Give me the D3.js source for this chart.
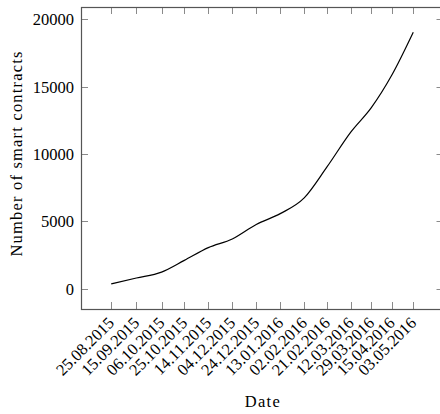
<!DOCTYPE html>
<html>
<head>
<meta charset="utf-8">
<script src="https://cdn.jsdelivr.net/npm/d3@7"></script>
<style>
  body { margin: 0; background: #fff; }
  text { font-family: "Liberation Serif", "DejaVu Serif", serif; fill: #000; }
</style>
</head>
<body>
<div id="chart"></div>
<script>
(function () {
  "use strict";

  /***** Données *****/
  var dates = ["25.08.2015", "15.09.2015", "06.10.2015", "25.10.2015", "14.11.2015",
               "04.12.2015", "24.12.2015", "13.01.2016", "02.02.2016", "21.02.2016",
               "12.03.2016", "29.03.2016", "15.04.2016", "03.05.2016"];
  var contracts = [370, 800, 1240, 2110, 3060, 3700, 4780, 5580, 6750, 9050,
                   11650, 13450, 15850, 19050];
  var yTicks = [0, 5000, 10000, 15000, 20000];

  /***** Configuration *****/
  var width = 440, height = 414;
  var margin = {top: 7, right: -3.5, bottom: 105, left: 81};
  var innerW = width - margin.left - margin.right,
      innerH = height - margin.top - margin.bottom;

  var parse = d3.timeParse("%d.%m.%Y");
  var data = dates.map(function (d, i) { return {date: parse(d), value: contracts[i]}; });

  // élargissement de 10 % comme pgfplots
  var xExt = d3.extent(data, function (d) { return d.date; });
  var xPad = (xExt[1] - xExt[0]) * 0.1;
  var yExt = d3.extent(contracts);
  var yPad = (yExt[1] - yExt[0]) * 0.1;

  var x = d3.scaleTime()
    .domain([new Date(+xExt[0] - xPad), new Date(+xExt[1] + xPad)])
    .range([0, innerW]);
  var y = d3.scaleLinear()
    .domain([yExt[0] - yPad, yExt[1] + yPad])
    .range([innerH, 0]);

  var svg = d3.select("#chart").append("svg")
    .attr("width", width)
    .attr("height", height);

  var g = svg.append("g")
    .attr("transform", "translate(" + margin.left + "," + margin.top + ")");

  var tickDates = dates.map(parse);
  var tickLen = 7;

  // graduations (intérieures, sur les quatre côtés)
  var ticks = g.append("g").attr("stroke", "#8a8a8a").attr("stroke-width", 1);
  tickDates.forEach(function (d) {
    var px = Math.round(x(d)) + 0.5;
    ticks.append("line").attr("x1", px).attr("x2", px).attr("y1", innerH).attr("y2", innerH - tickLen);
    ticks.append("line").attr("x1", px).attr("x2", px).attr("y1", 0).attr("y2", tickLen);
  });
  yTicks.forEach(function (v) {
    var py = Math.round(y(v)) + 0.5;
    ticks.append("line").attr("x1", 0).attr("x2", tickLen).attr("y1", py).attr("y2", py);
    ticks.append("line").attr("x1", innerW).attr("x2", innerW - tickLen).attr("y1", py).attr("y2", py);
  });

  // cadre
  g.append("rect")
    .attr("x", 0.5).attr("y", 0.5)
    .attr("width", innerW).attr("height", innerH)
    .attr("fill", "none")
    .attr("stroke", "#555")
    .attr("stroke-width", 1.2);

  // courbe
  var line = d3.line()
    .x(function (d) { return x(d.date); })
    .y(function (d) { return y(d.value); })
    .curve(d3.curveMonotoneX);

  g.append("path")
    .datum(data)
    .attr("fill", "none")
    .attr("stroke", "#000")
    .attr("stroke-width", 1.2)
    .attr("d", line);

  // étiquettes Y
  g.selectAll(".ylab").data(yTicks).enter().append("text")
    .attr("x", -7)
    .attr("y", function (d) { return y(d); })
    .attr("dy", "0.35em")
    .attr("text-anchor", "end")
    .style("font-size", "16.5px")
    .text(function (d) { return d; });

  // étiquettes X (rotation 45°)
  g.selectAll(".xlab").data(dates).enter().append("text")
    .attr("transform", function (d) {
      return "translate(" + (x(parse(d)) + 4) + "," + (innerH + 15) + ") rotate(-45)";
    })
    .attr("text-anchor", "end")
    .style("font-size", "16.5px")
    .text(function (d) { return d; });

  // titres des axes
  svg.append("text")
    .attr("x", margin.left + innerW / 2)
    .attr("y", 406.5)
    .attr("text-anchor", "middle")
    .attr("textLength", 35)
    .attr("lengthAdjust", "spacing")
    .style("font-size", "16.5px")
    .text("Date");

  svg.append("text")
    .attr("transform", "translate(21.5," + (margin.top + innerH / 2 - 4) + ") rotate(-90)")
    .attr("text-anchor", "middle")
    .attr("textLength", 205)
    .attr("lengthAdjust", "spacing")
    .style("font-size", "16.5px")
    .text("Number of smart contracts");
})();
</script>
</body>
</html>
